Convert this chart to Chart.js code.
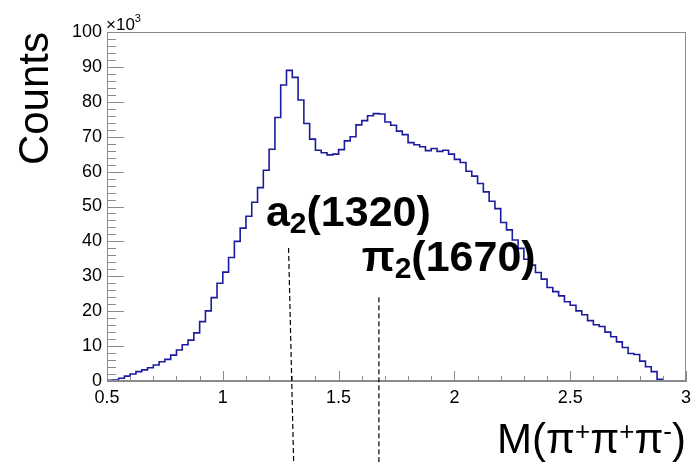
<!DOCTYPE html>
<html>
<head>
<meta charset="utf-8">
<script src="https://cdn.jsdelivr.net/npm/chart.js@4.4.1/dist/chart.umd.min.js"></script>
<style>
  html, body { margin: 0; padding: 0; background: #fff; }
  #wrap { width: 693px; height: 462px; }
</style>
</head>
<body>
<div id="wrap"><canvas id="myChart" width="693" height="462"></canvas></div>
<script>
// histogram of M(pi+ pi+ pi-), 100 bins from 0.5 to 3.0, counts in units of 10^3
const xMin = 0.5;
const xMax = 3.0;
const binWidth = 0.025;
const counts = [
  0.1, 0.2, 0.3, 0.8, 1.4, 2.0, 2.7, 3.2, 3.8, 4.6,
  5.5, 6.2, 7.4, 8.9, 10.4, 11.7, 13.8, 17.0, 20.1, 23.9,
  28.0, 31.2, 35.4, 40.0, 43.8, 47.2, 51.2, 55.4, 60.4, 66.4,
  75.5, 84.8, 89.0, 87.0, 80.5, 73.8, 69.3, 66.1, 65.4, 64.8,
  65.0, 66.3, 68.8, 70.0, 73.4, 74.6, 76.0, 76.6, 76.5, 74.2,
  73.3, 71.6, 70.6, 68.3, 67.7, 67.1, 66.0, 66.6, 65.8, 66.1,
  65.0, 63.5, 62.6, 60.1, 58.7, 56.6, 54.2, 51.5, 49.4, 45.4,
  43.3, 40.4, 38.0, 34.9, 33.2, 31.1, 29.2, 26.8, 25.6, 24.4,
  22.7, 21.7, 20.1, 19.0, 17.3, 16.1, 15.6, 14.0, 12.7, 11.2,
  9.6, 7.9, 7.6, 5.7, 4.1, 2.7, 0.5, 0, 0, 0
];
const xTickLabels = ['0.5', '1', '1.5', '2', '2.5', '3'];
const yMax = 100;

// resonance markers: name parts, where the dashed line goes (data coords)
const resonances = [
  { base: 'a', sub: '2', rest: '(1320)', textX: 1.186, textY: 44.4, line: [[1.284, 38.1], [1.306, -23.5]] },
  { base: 'π', sub: '2', rest: '(1670)', textX: 1.600, textY: 31.6, line: [[1.674, 24.0], [1.674, -23.5]] }
];

// build step points: each bin's lower edge, then the upper edge of the last bin
const points = counts.map((c, i) => ({ x: xMin + i * binWidth, y: c }));
points.push({ x: xMax, y: counts[counts.length - 1] });

const FONT = '"Liberation Sans", Arial, Helvetica, sans-serif';
const AXIS_GRAY = '#8a8a8a';

const rootStyle = {
  id: 'rootStyle',
  afterDraw(chart) {
    const { ctx, chartArea: a, scales: { x, y } } = chart;
    ctx.save();

    // frame
    ctx.strokeStyle = AXIS_GRAY;
    ctx.lineWidth = 1;
    ctx.strokeRect(a.left + 0.5, a.top + 0.5, a.right - a.left - 1, a.bottom - a.top - 1);

    // ticks pointing into the frame
    ctx.beginPath();
    for (let v = 0; v <= yMax; v += 2) {
      const py = Math.round(y.getPixelForValue(v)) + 0.5;
      const len = v % 10 === 0 ? 17 : 9;
      ctx.moveTo(a.left, py);
      ctx.lineTo(a.left + len, py);
    }
    for (let i = 0; i <= 25; i++) {
      const px = Math.round(x.getPixelForValue(xMin + i * 0.1)) + 0.5;
      const len = i % 5 === 0 ? 10 : 5;
      ctx.moveTo(px, a.bottom);
      ctx.lineTo(px, a.bottom - len);
    }
    ctx.stroke();

    // x10^3 multiplier
    ctx.fillStyle = '#000';
    ctx.textBaseline = 'alphabetic';
    ctx.textAlign = 'left';
    ctx.font = '17px ' + FONT;
    ctx.fillText('×10', a.left - 1, a.top - 2);
    let w = ctx.measureText('×10').width;
    ctx.font = '11px ' + FONT;
    ctx.fillText('3', a.left - 1 + w, a.top - 10);

    // axis titles
    ctx.save();
    ctx.translate(48, a.top);
    ctx.rotate(-Math.PI / 2);
    ctx.textAlign = 'right';
    ctx.font = '42px ' + FONT;
    ctx.fillText('Counts', 0, 0);
    ctx.restore();

    const titleParts = [['M(', 0], ['π', 0], ['+', 1], ['π', 0], ['+', 1], ['π', 0], ['-', 1], [')', 0]];
    let total = 0;
    titleParts.forEach(([t, sup]) => {
      ctx.font = (sup ? '26px ' : '42px ') + FONT;
      total += ctx.measureText(t).width;
    });
    let tx = a.right - total;
    titleParts.forEach(([t, sup]) => {
      ctx.font = (sup ? '26px ' : '42px ') + FONT;
      ctx.fillText(t, tx, sup ? 440 : 453);
      tx += ctx.measureText(t).width;
    });

    // resonance lines and names
    resonances.forEach(r => {
      ctx.strokeStyle = '#000';
      ctx.lineWidth = 1.2;
      ctx.setLineDash([5, 3]);
      ctx.beginPath();
      ctx.moveTo(x.getPixelForValue(r.line[0][0]), y.getPixelForValue(r.line[0][1]));
      ctx.lineTo(x.getPixelForValue(r.line[1][0]), y.getPixelForValue(r.line[1][1]));
      ctx.stroke();
      ctx.setLineDash([]);

      let px = x.getPixelForValue(r.textX);
      const py = y.getPixelForValue(r.textY);
      ctx.font = 'bold 43px ' + FONT;
      ctx.fillText(r.base, px, py);
      px += ctx.measureText(r.base).width;
      ctx.font = 'bold 30px ' + FONT;
      ctx.fillText(r.sub, px, py + 7);
      px += ctx.measureText(r.sub).width;
      ctx.font = 'bold 43px ' + FONT;
      ctx.fillText(r.rest, px, py);
    });

    ctx.restore();
  }
};

const ctx = document.getElementById('myChart');
new Chart(ctx, {
  type: 'line',
  data: {
    datasets: [{
      data: points,
      stepped: 'after',
      borderColor: '#1b1b9e',
      borderWidth: 1.6,
      pointRadius: 0,
      fill: false
    }]
  },
  options: {
    responsive: false,
    animation: false,
    layout: { padding: { top: 32, right: 7, left: 0, bottom: 0 } },
    plugins: { legend: { display: false }, tooltip: { enabled: false } },
    scales: {
      x: {
        type: 'linear',
        min: xMin,
        max: xMax,
        afterFit: s => { s.height = 81; s.paddingRight = 0; },
        afterBuildTicks: s => { s.ticks = xTickLabels.map(t => ({ value: parseFloat(t) })); },
        grid: { display: false, drawTicks: false },
        border: { display: true, color: AXIS_GRAY },
        ticks: {
          padding: 6,
          color: '#000',
          maxRotation: 0,
          autoSkip: false,
          font: { size: 18, family: FONT },
          callback: v => xTickLabels.find(t => parseFloat(t) === v)
        }
      },
      y: {
        min: 0,
        max: yMax,
        afterFit: s => { s.width = 107; },
        grid: { display: false, drawTicks: false },
        border: { display: true, color: AXIS_GRAY },
        ticks: {
          stepSize: 10,
          padding: 5,
          color: '#000',
          font: { size: 18, family: FONT }
        }
      }
    }
  },
  plugins: [rootStyle]
});
</script>
</body>
</html>
